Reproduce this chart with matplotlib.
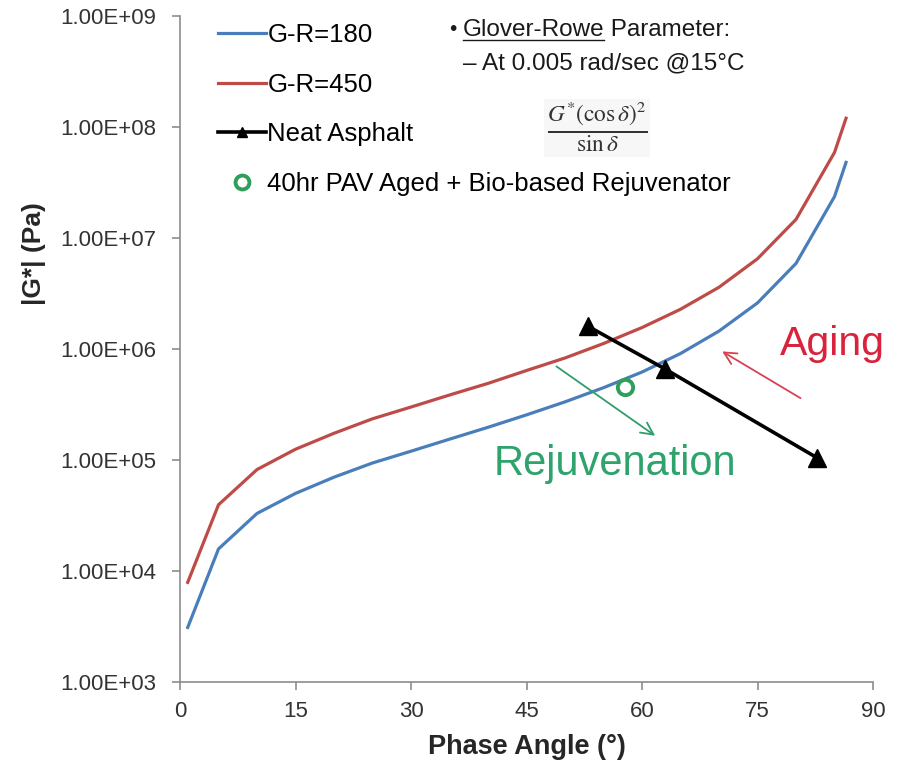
import matplotlib
matplotlib.use("Agg")
import matplotlib.pyplot as plt
from matplotlib.lines import Line2D

plt.rcParams['font.family'] = ['Liberation Sans', 'DejaVu Sans']
plt.rcParams['mathtext.fontset'] = 'stix'

# Phase angle (deg) and |G*| (Pa)
phase = [1, 5, 10, 15, 20, 25, 30, 35, 40, 45, 50, 55, 60, 65, 70, 75, 80, 85, 86.5]
gr180 = [3.1e3, 1.58e4, 3.3e4, 5.0e4, 7.0e4, 9.4e4, 1.2e5, 1.54e5, 1.97e5, 2.55e5,
         3.34e5, 4.48e5, 6.2e5, 9.1e5, 1.45e6, 2.6e6, 5.9e6, 2.36e7, 4.8e7]
gr450 = [7.9e3, 3.95e4, 8.2e4, 1.25e5, 1.74e5, 2.35e5, 3.0e5, 3.85e5, 4.9e5, 6.4e5,
         8.3e5, 1.12e6, 1.56e6, 2.28e6, 3.6e6, 6.5e6, 1.47e7, 5.9e7, 1.2e8]
neat_phase = [53.0, 63.0, 82.7]
neat_g = [1.6e6, 6.6e5, 1.05e5]
rejuv_phase = [57.8]
rejuv_g = [4.5e5]

labels = ["G-R=180", "G-R=450", "Neat Asphalt", "40hr PAV Aged + Bio-based Rejuvenator"]
xticks = [0, 15, 30, 45, 60, 75, 90]
yticks = [1e3, 1e4, 1e5, 1e6, 1e7, 1e8, 1e9]
ytick_labels = ["1.00E+03", "1.00E+04", "1.00E+05", "1.00E+06", "1.00E+07", "1.00E+08", "1.00E+09"]

blue = "#4A7EBB"
red = "#BE4B48"
green = "#2E9E5B"

fig = plt.figure(figsize=(9, 7.62), dpi=100)
ax = fig.add_axes([0.2, 0.105, 0.77, 0.874])

ax.plot(phase, gr180, color=blue, lw=2.3)
ax.plot(phase, gr450, color=red, lw=2.3)
ax.plot(neat_phase, neat_g, color="black", lw=2.6, marker="^", markersize=13)
ax.plot(rejuv_phase, rejuv_g, ls="none", marker="o", markersize=11, markerfacecolor="none",
        markeredgecolor=green, markeredgewidth=2.8)

ax.set_yscale("log")
ax.set_xlim(0, 90)
ax.set_ylim(1e3, 1e9)
ax.set_xticks(xticks)
ax.set_xticklabels([str(v) for v in xticks])
ax.set_yticks(yticks)
ax.set_yticklabels(ytick_labels)
ax.yaxis.set_minor_locator(matplotlib.ticker.NullLocator())

for s in ["top", "right"]:
    ax.spines[s].set_visible(False)
for s in ["left", "bottom"]:
    ax.spines[s].set_color("#8C8C8C")
    ax.spines[s].set_linewidth(1.2)
ax.tick_params(axis="both", direction="out", length=6, color="#8C8C8C", width=1.2)
ax.tick_params(axis="y", labelsize=16, labelcolor="#333333", pad=11)
ax.tick_params(axis="x", labelsize=16, labelcolor="#333333", pad=8)

ax.set_xlabel("Phase Angle (°)", fontsize=19.5, fontweight="bold", color="#262626", labelpad=8)
ax.set_ylabel("|G*| (Pa)", fontsize=19, fontweight="bold", color="#262626")
ax.yaxis.set_label_coords(-0.1934, 0.644)

handles = [
    Line2D([], [], color=blue, lw=2.3),
    Line2D([], [], color=red, lw=2.3),
    Line2D([], [], color="black", lw=2.6, marker="^", markersize=7),
    Line2D([], [], ls="none", marker="o", markersize=10, markerfacecolor="none",
           markeredgecolor=green, markeredgewidth=2.8),
]
leg = ax.legend(handles, labels, loc="upper left", bbox_to_anchor=(0.0555, 0.9895),
                frameon=False, fontsize=18.5, labelspacing=1.0, handlelength=1.85,
                handletextpad=0.05, borderaxespad=0, borderpad=0)

# Glover-Rowe annotation
ax.text(0.388, 0.979, "•", transform=ax.transAxes, fontsize=15, va="center", ha="left",
        color="#1a1a1a")
t1 = ax.text(0.408, 0.979, "Glover-Rowe", transform=ax.transAxes, fontsize=17.5,
             va="center", ha="left", color="#1a1a1a")
fig.canvas.draw()
bb = t1.get_window_extent()
fig.text(bb.x1 / fig.bbox.width, (bb.y0 + bb.y1) / 2 / fig.bbox.height,
         " Parameter:", fontsize=17.5, va="center", ha="left", color="#1a1a1a")
fig.add_artist(Line2D([bb.x0 / fig.bbox.width, bb.x1 / fig.bbox.width],
                      [(bb.y0 + 1) / fig.bbox.height] * 2, color="#1a1a1a", lw=1.0))
ax.text(0.408, 0.929, "– At 0.005 rad/sec @15°C", transform=ax.transAxes, fontsize=17.5,
        va="center", ha="left", color="#1a1a1a")
ax.text(0.602, 0.832, r"$\frac{G^{*}(\cos\delta)^{2}}{\sin\delta}$", transform=ax.transAxes,
        fontsize=24, va="center", ha="center", color="#333333",
        bbox=dict(facecolor="#F7F7F7", edgecolor="none", pad=2))

# Arrows and labels
ax.annotate("", xy=(70.1, 9.8e5), xytext=(80.9, 3.5e5),
            arrowprops=dict(arrowstyle="->", color="#D94050", lw=1.3, mutation_scale=22))
ax.text(84.7, 1.12e6, "Aging", fontsize=29.5, color="#D9233C", ha="center", va="center")
ax.annotate("", xy=(62.0, 1.6e5), xytext=(48.6, 7.2e5),
            arrowprops=dict(arrowstyle="->", color="#2E9E6B", lw=1.3, mutation_scale=22))
ax.text(56.5, 9.2e4, "Rejuvenation", fontsize=30, color="#2EA36B", ha="center", va="center")

fig.savefig("out.png", dpi=100)
